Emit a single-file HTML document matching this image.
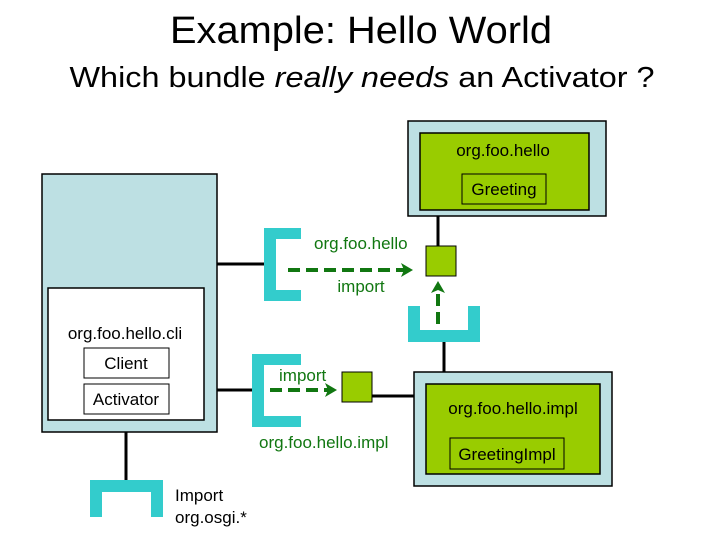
<!DOCTYPE html>
<html><head><meta charset="utf-8"><style>
html,body{margin:0;padding:0;background:#fff}
svg{display:block}
text{font-family:"Liberation Sans",Arial,sans-serif}
</style></head><body>
<svg width="720" height="540" viewBox="0 0 720 540" xmlns="http://www.w3.org/2000/svg">
<text x="361" y="43" font-size="38" text-anchor="middle" textLength="382" lengthAdjust="spacingAndGlyphs">Example: Hello World</text>
<text x="362" y="87" font-size="29" text-anchor="middle" textLength="585" lengthAdjust="spacingAndGlyphs">Which bundle <tspan font-style="italic">really needs</tspan> an Activator ?</text>

<g stroke="#000" stroke-width="3">
<line x1="217" y1="264" x2="264" y2="264"/>
<line x1="217" y1="390" x2="252" y2="390"/>
<line x1="126" y1="432" x2="126" y2="482"/>
<line x1="438" y1="216" x2="438" y2="246"/>
<line x1="444" y1="342" x2="444" y2="372"/>
<line x1="372" y1="396" x2="414" y2="396"/>
</g>

<rect x="42" y="174" width="175" height="258" fill="#bde0e3" stroke="#000" stroke-width="1.5"/>
<rect x="48" y="288" width="156" height="132" fill="#fff" stroke="#000" stroke-width="1.5"/>
<text x="125" y="339" font-size="17" text-anchor="middle">org.foo.hello.cli</text>
<rect x="84" y="348" width="85" height="30" fill="#fff" stroke="#000" stroke-width="1"/>
<text x="126" y="369" font-size="17" text-anchor="middle">Client</text>
<rect x="84" y="384" width="85" height="30" fill="#fff" stroke="#000" stroke-width="1"/>
<text x="126" y="405" font-size="17" text-anchor="middle">Activator</text>

<g fill="#33cccc">
<path d="M264 228h37v11h-25v51h25v11h-37z"/>
<path d="M252 354h49v11h-37v51h37v11h-49z"/>
<path d="M90 480h73v37h-12v-25h-49v25h-12z"/>
<path d="M408 306h12v24h48v-24h12v36h-72z"/>
</g>

<rect x="408" y="121" width="198" height="95" fill="#bde0e3" stroke="#000" stroke-width="1.5"/>
<rect x="420" y="133" width="169" height="77" fill="#99cc00" stroke="#000" stroke-width="1.5"/>
<text x="503" y="156" font-size="17" text-anchor="middle">org.foo.hello</text>
<rect x="462" y="174" width="84" height="30" fill="#99cc00" stroke="#000" stroke-width="1"/>
<text x="504" y="195" font-size="17" text-anchor="middle">Greeting</text>

<rect x="414" y="372" width="198" height="114" fill="#bde0e3" stroke="#000" stroke-width="1.5"/>
<rect x="426" y="384" width="174" height="90" fill="#99cc00" stroke="#000" stroke-width="1.5"/>
<text x="513" y="414" font-size="17" text-anchor="middle">org.foo.hello.impl</text>
<rect x="450" y="438" width="114" height="31" fill="#99cc00" stroke="#000" stroke-width="1"/>
<text x="507" y="460" font-size="17" text-anchor="middle">GreetingImpl</text>

<rect x="426" y="246" width="30" height="30" fill="#99cc00" stroke="#000" stroke-width="1"/>
<rect x="342" y="372" width="30" height="30" fill="#99cc00" stroke="#000" stroke-width="1"/>

<g stroke="#117711" stroke-width="4" stroke-dasharray="12,6" fill="none">
<line x1="288" y1="270" x2="404" y2="270"/>
<line x1="270" y1="390" x2="328" y2="390"/>
<line x1="438" y1="324" x2="438" y2="290"/>
</g>
<g fill="#117711">
<path d="M401 263l12 7l-12 7l3-7z"/>
<path d="M325 383l12 7l-12 7l3-7z"/>
<path d="M431 293l7-12l7 12l-7-3z"/>
</g>
<g fill="#117711" font-size="17">
<text x="314" y="249">org.foo.hello</text>
<text x="361" y="292" text-anchor="middle">import</text>
<text x="279" y="381">import</text>
<text x="259" y="448">org.foo.hello.impl</text>
</g>

<text x="175" y="501" font-size="17">Import</text>
<text x="175" y="523" font-size="17">org.osgi.*</text>
</svg>
</body></html>
